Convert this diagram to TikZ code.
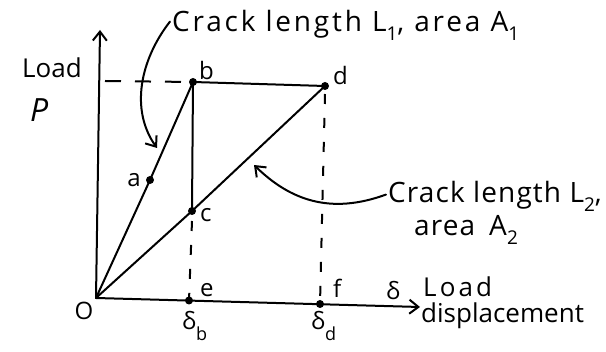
\documentclass[tikz,border=0pt]{standalone}
\usepackage{fontspec}
\setmainfont{Open Sans}
\usetikzlibrary{arrows.meta}
\newcommand\lowr[1]{\raisebox{-0.3em}{\fontsize{19}{19}\selectfont #1}}
\newcommand\lowsub[1]{\raisebox{-0.45em}{\fontsize{18}{18}\selectfont #1}}
\tikzset{
  ln/.style={line width=2pt, line cap=round},
  dsh/.style={line width=2pt, dash pattern=on 16pt off 14pt},
  vdsh/.style={line width=2pt, dash pattern=on 10pt off 14pt},
  pt/.style={circle, fill=black, inner sep=0pt, minimum size=8pt},
  lbl/.style={font=\fontsize{24}{24}\selectfont, inner sep=0pt},
  big/.style={font=\fontsize{28}{28}\selectfont, inner sep=0pt},
  mid/.style={font=\fontsize{26}{26}\selectfont, inner sep=0pt},
  tip/.style={-{Straight Barb[length=9pt, width=14pt, line width=2pt]}},
}
\begin{document}
\begin{tikzpicture}[x=1pt, y=-1pt]
\useasboundingbox (0,0) rectangle (606,352);
% points
\coordinate (O) at (96,298);
\coordinate (ytop) at (100,30);
\coordinate (xend) at (420,307);
\coordinate (dstart) at (105,81);
\node[pt] (a) at (150,180) {};
\node[pt] (b) at (193,82) {};
\node[pt] (c) at (192,211) {};
\node[pt] (d) at (325,86) {};
\node[pt] (e) at (189,300.5) {};
\node[pt] (f) at (320,304) {};
% axes
\draw[ln, tip] (O) -- (ytop);
\draw[ln, tip] (O) -- (xend);
% lines
\draw[ln] (O) -- (a.center) -- (b.center);
\draw[ln] (b.center) -- (c.center);
\draw[ln] (b.center) -- (d.center);
\draw[ln] (O) -- (c.center) -- (d.center);
\draw[dsh] (dstart) -- (b.center);
\draw[vdsh] (c.center) ++(0,10) -- (e.center);
\draw[vdsh] (d.center) ++(0,8) -- (f.center);
% point labels
\node[lbl, anchor=base west] (lb) at (199,80) {b};
\node[lbl, anchor=base west] (ld) at (333,85) {d};
\node[lbl, anchor=base east] (la) at (141,187) {a};
\node[lbl, anchor=base west] (lc) at (200,222) {c};
\node[lbl, anchor=base west] (le) at (200,297) {e};
\node[lbl, anchor=base west] (lf) at (333,298) {f};
\node[lbl, anchor=base] (lO) at (84,320) {O};
\node[lbl, anchor=base west] (ldb) at (182,330) {δ\lowsub{b}};
\node[lbl, anchor=base west] (ldd) at (311,330) {δ\lowsub{d}};
\node[lbl, anchor=base west] (ldel) at (386,300) {δ};
% axis labels
\node[mid, anchor=base west] (loadP) at (22,78) {Load};
\node[big, anchor=base west, font=\fontsize{32}{32}\selectfont\itshape] (P) at (30,122) {P};
\node[mid, anchor=base west] (loadD) at (423,297) {\addfontfeatures{LetterSpace=12}Load};
\node[mid, anchor=base west] (disp) at (421,323) {displacement};
% crack labels
\node[big, anchor=base west] (crack1) at (172,32) {\addfontfeatures{LetterSpace=10}Crack length L\lowr{1}, area A\lowr{1}};
\node[big, anchor=base west] (crack2) at (388,203) {\addfontfeatures{LetterSpace=4}Crack length L\lowr{2},};
\node[big, anchor=base west] (area2) at (414,236) {\addfontfeatures{LetterSpace=4}area\hspace{14pt}A\lowr{2}};
% curved arrows
\draw[ln, tip] (crack1.west) ++(-2,-4) .. controls (140,60) and (130,110) .. (157,148);
\draw[ln, tip] (crack2.west) ++(-2,-2) .. controls (330,215) and (290,200) .. (254,165);
\end{tikzpicture}
\end{document}
